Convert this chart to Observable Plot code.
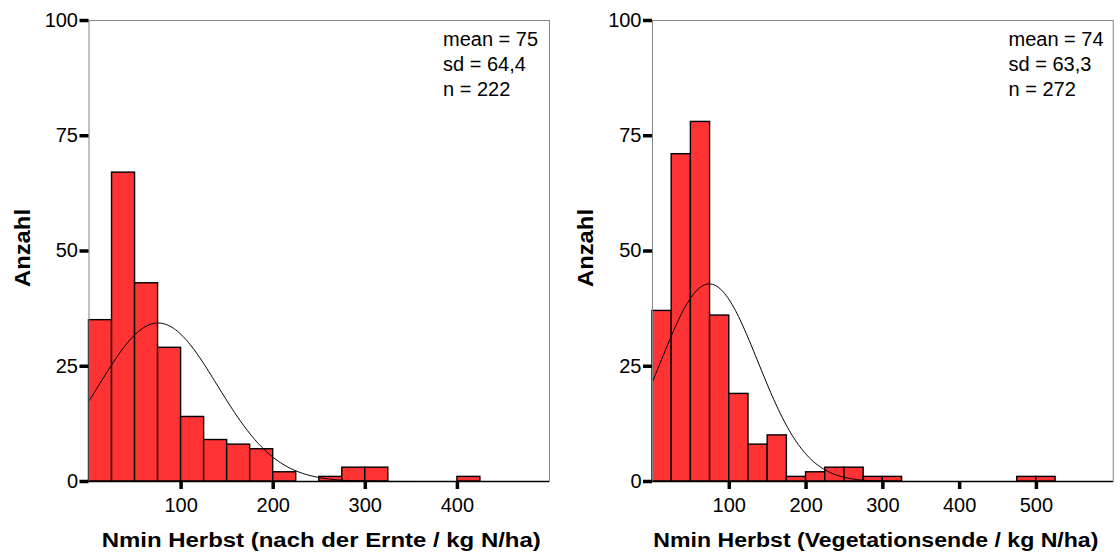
<!DOCTYPE html>
<html><head><meta charset="utf-8">
<script src="https://cdn.jsdelivr.net/npm/d3@7"></script>
<script src="https://cdn.jsdelivr.net/npm/@observablehq/plot@0.6"></script>
<style>
html,body{margin:0;padding:0;background:#fff;}
#wrap{display:flex;width:1120px;height:552px;overflow:hidden;}
#wrap svg{flex:none;}
</style></head><body><div id="wrap"></div>
<script>
// ---- data ----
const binWidth = 25;
const yTicks = [0, 25, 50, 75, 100];

const leftBinStarts = [0, 25, 50, 75, 100, 125, 150, 175, 200, 225, 250, 275, 300, 325, 350, 375, 400];
const leftCounts    = [35, 67, 43, 29, 14, 9, 8, 7, 2, 0, 1, 3, 3, 0, 0, 0, 1];
const leftMean = 75, leftSd = 64.4, leftN = 222;
const leftXTicks = [100, 200, 300, 400];
const leftXMax = 500;
const leftTitle = "Nmin Herbst (nach der Ernte / kg N/ha)";

const rightBinStarts = [0, 25, 50, 75, 100, 125, 150, 175, 200, 225, 250, 275, 300, 325, 350, 375, 400, 425, 450, 475, 500];
const rightCounts    = [37, 71, 78, 36, 19, 8, 10, 1, 2, 3, 3, 1, 1, 0, 0, 0, 0, 0, 0, 1, 1];
const rightMean = 74, rightSd = 63.3, rightN = 272;
const rightXTicks = [100, 200, 300, 400, 500];
const rightXMax = 600;
const rightTitle = "Nmin Herbst (Vegetationsende / kg N/ha)";

const yLabel = "Anzahl";

const fmtDe = v => String(v).replace(".", ",");

function panel(o) {
  const bars = o.binStarts.map((s, i) => ({x1: s, x2: s + binWidth, count: o.counts[i]})).filter(d => d.count > 0);
  // fitted normal curve from the stated mean, sd and n
  const k = o.n * binWidth / (o.sd * Math.sqrt(2 * Math.PI));
  const curve = d3.range(0, o.xMax + 0.001, 2).map(x => ({x, y: k * Math.exp(-0.5 * ((x - o.mean) / o.sd) ** 2)}));
  const stats = [`mean = ${o.mean}`, `sd = ${fmtDe(o.sd)}`, `n = ${o.n}`].join("\n");
  const svg = Plot.plot({
    width: 560, height: 552,
    marginLeft: o.marginLeft, marginRight: o.marginRight, marginTop: 20, marginBottom: 71,
    style: {fontFamily: "'Liberation Sans', Arial, sans-serif", fontSize: "20px", color: "#000", background: "#fff", overflow: "visible"},
    x: {domain: [0, o.xMax]},
    y: {domain: [0, 100]},
    marks: [
      Plot.rectY(bars, {x1: "x1", x2: "x2", y: "count", fill: "#ff3333", stroke: "#000", strokeWidth: 1.4}),
      Plot.line(curve, {x: "x", y: "y", stroke: "#000", strokeWidth: 1}),
      Plot.frame({stroke: "#858585", strokeWidth: 1}),
      Plot.ruleY([0], {stroke: "#000", strokeWidth: 1.5}),
      Plot.axisY(yTicks, {tickSize: 9, strokeWidth: 3.5, tickPadding: 2, label: null, fontSize: 20}),
      Plot.axisX(o.xTicks, {tickSize: 8, strokeWidth: 3.5, tickPadding: 8, label: null, fontSize: 20}),
      Plot.text([stats], {text: d => d, frameAnchor: "top-left", dx: o.statDx, dy: 7, lineAnchor: "top", textAnchor: "start", lineHeight: 1.27, fontSize: 20}),
      Plot.text([yLabel], {text: d => d, frameAnchor: "left", rotate: -90, dx: o.yLabelDx, dy: -3, fontWeight: "bold", fontSize: 22, textAnchor: "middle", lineAnchor: "middle"}),
      Plot.text([o.title], {text: d => d, frameAnchor: "bottom", dx: o.titleDx, dy: 51, lineAnchor: "top", textAnchor: "middle", fontWeight: "bold", fontSize: 20})
    ]
  });
  // stretch bold titles to the reference widths
  svg.querySelectorAll("text").forEach(t => {
    if (t.textContent === o.title) { t.setAttribute("textLength", o.titleLen); t.setAttribute("lengthAdjust", "spacingAndGlyphs"); }
    if (t.textContent === yLabel) { t.setAttribute("textLength", 78); t.setAttribute("lengthAdjust", "spacingAndGlyphs"); }
  });
  return svg;
}

const wrap = document.getElementById("wrap");
wrap.append(panel({
  binStarts: leftBinStarts, counts: leftCounts, mean: leftMean, sd: leftSd, n: leftN,
  xTicks: leftXTicks, xMax: leftXMax, title: leftTitle,
  marginLeft: 88.5, marginRight: 11, statDx: 354, yLabelDx: -66, titleDx: 2, titleLen: 439
}));
wrap.append(panel({
  binStarts: rightBinStarts, counts: rightCounts, mean: rightMean, sd: rightSd, n: rightN,
  xTicks: rightXTicks, xMax: rightXMax, title: rightTitle,
  marginLeft: 92, marginRight: 7.3, statDx: 356, yLabelDx: -67, titleDx: -7, titleLen: 445
}));
</script></body></html>
